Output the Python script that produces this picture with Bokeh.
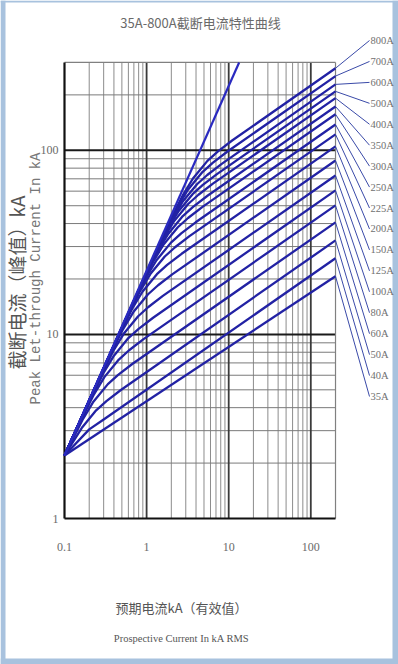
import numpy as np
from bokeh.plotting import figure
from bokeh.models import Range1d, Label
from bokeh.embed import file_html
from bokeh.resources import INLINE
from bokeh.core.properties import value

# ---------------- data ----------------
ratings = ["800A", "700A", "600A", "500A", "400A", "350A", "300A", "250A", "225A",
           "200A", "150A", "125A", "100A", "80A", "60A", "50A", "40A", "35A"]
end_current = 200  # kA, right edge of the chart
end_peak = [279, 253, 228, 209, 192, 173, 157, 138, 122, 105, 88, 73, 60.6, 50.2,
            40.6, 32.4, 25.9, 20.7]

c800_x = [0.1, 1.835, 2.753, 3.67, 5.505, 7.34, 11.01, 200]
c800_y = [2.2, 39.67, 56.86, 70.29, 87.60, 98.34, 113.0, 279]
c700_x = [0.1, 1.595, 2.393, 3.19, 4.785, 6.38, 9.57, 200]
c700_y = [2.2, 34.48, 49.42, 61.10, 76.15, 85.48, 98.22, 253]
c600_x = [0.1, 1.37, 2.055, 2.74, 4.11, 5.48, 8.22, 200]
c600_y = [2.2, 29.62, 42.45, 52.48, 65.40, 73.42, 84.36, 228]
c500_x = [0.1, 1.21, 1.815, 2.42, 3.63, 4.84, 7.26, 200]
c500_y = [2.2, 26.16, 37.49, 46.35, 57.77, 64.85, 74.51, 209]
c400_x = [0.1, 1.07, 1.605, 2.14, 3.21, 4.28, 6.42, 200]
c400_y = [2.2, 23.13, 33.15, 40.99, 51.08, 57.34, 65.89, 192]
c350_x = [0.1, 0.92, 1.38, 1.84, 2.76, 3.68, 5.52, 200]
c350_y = [2.2, 19.89, 28.51, 35.24, 43.92, 49.30, 56.65, 173]
c300_x = [0.1, 0.80, 1.20, 1.60, 2.40, 3.20, 4.80, 200]
c300_y = [2.2, 17.29, 24.79, 30.64, 38.19, 42.87, 49.26, 157]
c250_x = [0.1, 0.66, 0.99, 1.32, 1.98, 2.64, 3.96, 200]
c250_y = [2.2, 14.27, 20.45, 25.28, 31.51, 35.37, 40.64, 138]
c225_x = [0.1, 0.555, 0.8325, 1.11, 1.665, 2.22, 3.33, 200]
c225_y = [2.2, 12.00, 17.20, 21.26, 26.50, 29.74, 34.18, 122]
c200_x = [0.1, 0.445, 0.6675, 0.89, 1.335, 1.78, 2.67, 200]
c200_y = [2.2, 9.62, 13.79, 17.05, 21.24, 23.85, 27.40, 105]
c150_x = [0.1, 0.345, 0.5175, 0.69, 1.035, 1.38, 2.07, 200]
c150_y = [2.2, 7.46, 10.69, 13.22, 16.47, 18.49, 21.24, 88]
c125_x = [0.1, 0.263, 0.3945, 0.526, 0.789, 1.052, 1.578, 200]
c125_y = [2.2, 5.68, 8.15, 10.07, 12.55, 14.09, 16.19, 73]
c100_x = [0.1, 0.2, 0.3, 0.4, 0.6, 0.8, 1.2, 200]
c100_y = [2.2, 4.32, 6.20, 7.66, 9.55, 10.72, 12.32, 60.6]
c80_x = [0.1, 0.153, 0.2295, 0.306, 0.459, 0.612, 0.918, 200]
c80_y = [2.2, 3.31, 4.74, 5.86, 7.30, 8.20, 9.42, 50.2]
c60_x = [0.1, 0.169, 0.225, 0.3375, 0.45, 0.675, 200]
c60_y = [2.2, 3.49, 4.31, 5.37, 6.03, 6.93, 40.6]
c50_x = [0.1, 0.162, 0.243, 0.324, 0.486, 200]
c50_y = [2.2, 3.10, 3.87, 4.34, 4.99, 32.4]
c40_x = [0.1, 0.2, 0.3, 200]
c40_y = [2.2, 3.05, 3.45, 25.9]
c35_x = [0.1, 200]
c35_y = [2.2, 20.7]

envelope_x = [0.1, 13.4]
envelope_y = [2.2, 300]

x_ticks = [0.1, 1, 10, 100]
x_tick_labels = ["0.1", "1", "10", "100"]
y_ticks = [1, 10, 100]
y_tick_labels = ["1", "10", "100"]
x_lo, x_hi = 0.1, 200
y_lo, y_hi = 1, 300

title_text = "35A-800A截断电流特性曲线"
ytitle_cn = "截断电流（峰值）kA"
ytitle_en = "Peak Let-through Current In kA"
xtitle_cn = "预期电流kA（有效值）"
xtitle_en = "Prospective Current In kA RMS"

# ---------------- layout: the frame fills the whole canvas ----------------
W, H = 398, 664
PX_DEC_X = 82.1          # pixels per decade, x
PX_DEC_Y = 184.1         # pixels per decade, y
FL, FB = 64, 518         # canvas position of (x_lo, y_lo)

x_start = x_lo * 10 ** (-FL / PX_DEC_X)
x_end = x_lo * 10 ** ((W - FL) / PX_DEC_X)
y_start = y_lo * 10 ** (-(H - FB) / PX_DEC_Y)
y_end = y_lo * 10 ** (FB / PX_DEC_Y)

p = figure(width=W, height=H, x_axis_type="log", y_axis_type="log",
           x_range=Range1d(x_start, x_end), y_range=Range1d(y_start, y_end),
           x_axis_location=None, y_axis_location=None, title=None,
           output_backend="svg", toolbar_location=None, min_border=0)
p.grid.visible = False
p.outline_line_color = None
p.background_fill_color = "white"
p.border_fill_color = "white"


def cx(px):   # canvas x -> data x
    return x_lo * 10 ** ((px - FL) / PX_DEC_X)


def cy(py):   # canvas y (from top) -> data y
    return y_lo * 10 ** ((FB - py) / PX_DEC_Y)


# light-blue picture frame
BC = "#a8c2de"
p.quad(left=[cx(0), cx(392), cx(0), cx(0)], right=[cx(5), cx(W), cx(W), cx(W)],
       top=[cy(0), cy(0), cy(0), cy(658)], bottom=[cy(H), cy(H), cy(2), cy(H)],
       fill_color=BC, line_color=None)

# ---------------- grid ----------------
minor_x = [m * d for d in (0.1, 1, 10) for m in range(2, 10)]
major_x = [1, 10, 100]
minor_y = [m * d for d in (1, 10, 100) for m in range(2, 10)]
minor_y = [v for v in minor_y if v < y_hi]
major_y = [10, 100]

p.segment(x0=minor_x, y0=[y_lo] * len(minor_x), x1=minor_x, y1=[y_hi] * len(minor_x),
          line_color="#8c8c8c", line_width=1)
p.segment(x0=[x_lo] * len(minor_y), y0=minor_y, x1=[x_hi] * len(minor_y), y1=minor_y,
          line_color="#7a7a7a", line_width=1)
p.segment(x0=major_x, y0=[y_lo] * 3, x1=major_x, y1=[y_hi] * 3,
          line_color="#3a3a3a", line_width=1.8)
p.segment(x0=[x_lo] * 2, y0=major_y, x1=[x_hi] * 2, y1=major_y,
          line_color="#1a1a1a", line_width=2)
p.segment(x0=[x_hi, x_lo], y0=[y_lo, y_hi], x1=[x_hi, x_hi], y1=[y_hi, y_hi],
          line_color="#808080", line_width=1.2)
p.segment(x0=[x_lo, x_lo], y0=[y_lo, y_lo], x1=[x_lo, x_hi], y1=[y_hi, y_lo],
          line_color="#111111", line_width=2.2)

# tick labels, placed with the same log scales
p.text(x=x_ticks, y=[cy(546)] * len(x_ticks), text=x_tick_labels,
       text_font=value("Liberation Serif"), text_font_size=value("12px"),
       text_color="#6a6a6a", text_align="center", text_baseline="middle")
p.text(x=[cx(58)] * len(y_ticks), y=y_ticks, text=y_tick_labels,
       text_font=value("Liberation Serif"), text_font_size=value("12px"),
       text_color="#6a6a6a", text_align="right", text_baseline="middle")

# ---------------- curves ----------------
curves = [(c800_x, c800_y), (c700_x, c700_y), (c600_x, c600_y), (c500_x, c500_y),
          (c400_x, c400_y), (c350_x, c350_y), (c300_x, c300_y), (c250_x, c250_y),
          (c225_x, c225_y), (c200_x, c200_y), (c150_x, c150_y), (c125_x, c125_y),
          (c100_x, c100_y), (c80_x, c80_y), (c60_x, c60_y), (c50_x, c50_y),
          (c40_x, c40_y), (c35_x, c35_y)]
p.multi_line(xs=[c[0] for c in curves], ys=[c[1] for c in curves],
             line_color="#2222a4", line_width=2.3, line_join="round")
p.line(envelope_x, envelope_y, line_color="#2a2ac0", line_width=2.2)

# ---------------- right-hand labels and leader lines ----------------
label_rows = np.linspace(40, 396, len(ratings))   # canvas y of each label
lab_y = [cy(v) for v in label_rows]
conn_x = cx(369)
text_x = cx(370)

p.segment(x0=[end_current] * len(ratings), y0=end_peak, x1=[conn_x] * len(ratings), y1=lab_y,
          line_color="#3a4aa8", line_width=1)
p.text(x=[text_x] * len(ratings), y=lab_y, text=ratings,
       text_font=value("Liberation Serif"), text_font_size=value("10.5px"),
       text_color="#707070", text_align="left", text_baseline="middle")


# ---------------- titles (screen units; the frame is the whole canvas) ----------------
def add_label(text, canvas_x, canvas_y, font, size, color, angle=0.0):
    p.add_layout(Label(x=canvas_x, y=H - canvas_y, x_units="screen", y_units="screen",
                       text=text, text_font=font, text_font_size=size, text_color=color,
                       text_align="center", text_baseline="middle", angle=angle))


add_label(title_text, 200, 22, "Noto Sans CJK SC", "13px", "#6a6a6a")
add_label(ytitle_cn, 16, 282, "Noto Sans CJK SC", "19px", "#555555", np.pi / 2)
add_label(ytitle_en, 35, 278, "Liberation Mono", "14px", "#777777", np.pi / 2)
add_label(xtitle_cn, 181, 607, "Noto Sans CJK SC", "13px", "#555555")
add_label(xtitle_en, 181, 638, "Liberation Serif", "10.5px", "#555555")

open("out.html", "w").write(file_html(p, INLINE))
